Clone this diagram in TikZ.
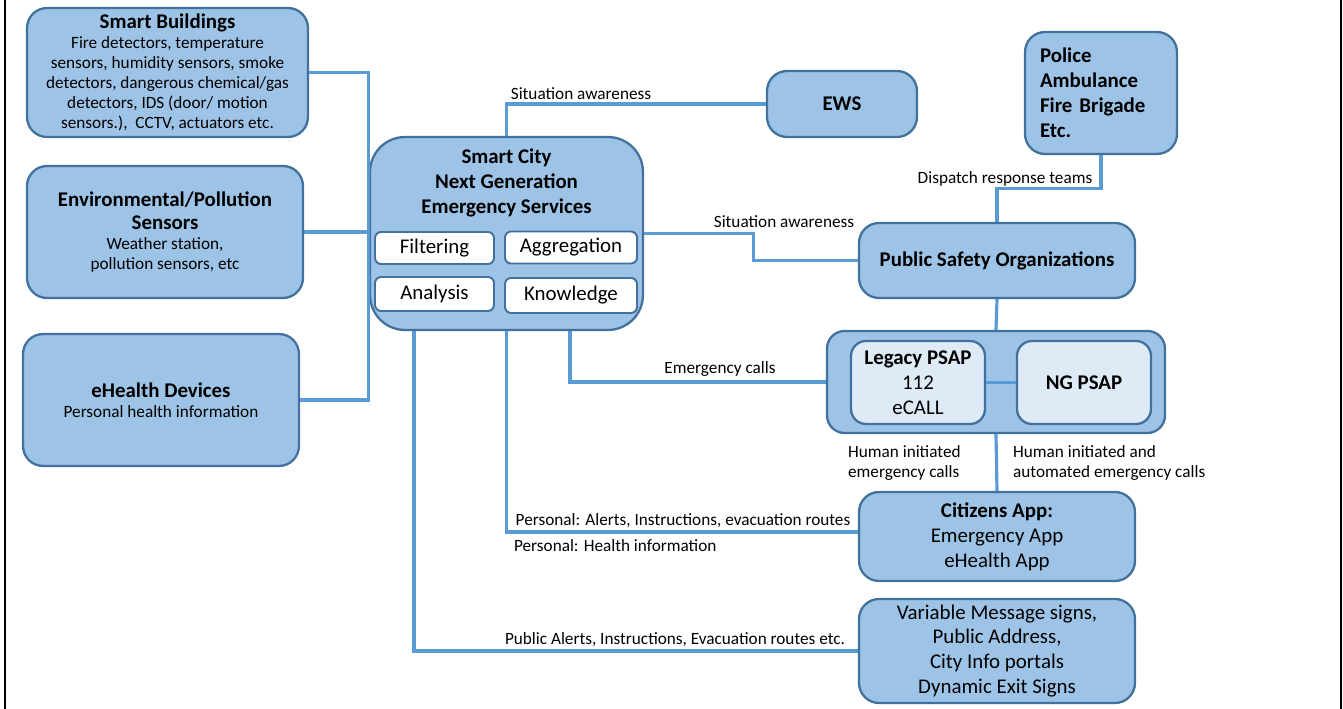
\documentclass[tikz,border=0pt]{standalone}
\usepackage{fontspec}
\setmainfont{Carlito}
\usetikzlibrary{calc,positioning}
\definecolor{boxfill}{RGB}{157,195,230}
\definecolor{boxedge}{RGB}{65,113,156}
\definecolor{wire}{RGB}{91,155,213}
\definecolor{psapfill}{RGB}{222,235,247}
\newcommand{\smalltxt}{\fontsize{9.8}{11.4}\selectfont}
\newcommand{\bigtxt}{\fontsize{11.9}{14.2}\selectfont}
\tikzset{
  box/.style={draw=boxedge, fill=boxfill, line width=1.3pt, rounded corners=0.4cm, align=center, inner sep=0pt},
  tag/.style={draw=boxedge, fill=white, line width=1.1pt, rounded corners=0.12cm, font=\bigtxt, inner sep=0pt},
  link/.style={draw=wire, line width=1.8pt},
  lbl/.style={font=\smalltxt, inner sep=1pt, align=left}
}

\begin{document}
\begin{tikzpicture}[x=0.02cm,y=-0.02cm]
\useasboundingbox (0,0) rectangle (1343,709);
\draw[line width=1.5pt] (5,0) -- (5,709);
\draw[line width=1.5pt] (1341,0) -- (1341,709);

\node[box, font=\smalltxt, minimum width=5.62cm, minimum height=2.58cm] (sb) at (167.5,72.5)
  {{\bigtxt\bfseries Smart Buildings}\\Fire detectors, temperature\\sensors, humidity sensors, smoke\\detectors, dangerous chemical/gas\\detectors, IDS (door/ motion\\sensors.),\ \ CCTV, actuators etc.};
\node[box, font=\smalltxt, minimum width=5.52cm, minimum height=2.64cm] (env) at (165,232)
  {{\bigtxt\bfseries Environmental/Pollution}\\[2pt]{\bigtxt\bfseries Sensors}\\Weather station,\\pollution sensors, etc};
\node[box, font=\smalltxt, minimum width=5.52cm, minimum height=2.64cm] (eh) at (161,400)
  {{\bigtxt\bfseries eHealth Devices}\\Personal health information};

\node[box, rounded corners=0.7cm, minimum width=5.46cm, minimum height=3.86cm] (city) at (506.5,233.5) {};
\node[font=\bigtxt\bfseries, align=center] (citytitle) at (506.5,183) {Smart City\\Next Generation\\Emergency Services};
\node[tag, minimum width=2.38cm, minimum height=0.64cm] (filt) at (434.5,248) {Filtering};
\node[tag, minimum width=2.64cm, minimum height=0.64cm] (aggr) at (571,247.5) {Aggregation};
\node[tag, minimum width=2.38cm, minimum height=0.68cm] (anal) at (434.5,294) {Analysis};
\node[tag, minimum width=2.64cm, minimum height=0.70cm] (know) at (571,295.5) {Knowledge};

\node[box, font=\bigtxt\bfseries, minimum width=3cm, minimum height=1.32cm] (ews) at (842,104) {EWS};
\node[box, font=\bigtxt\bfseries, align=left, inner xsep=0.3cm, text width=2.44cm, minimum height=2.44cm] (pol) at (1101,93)
  {Police\\Ambulance\\Fire Brigade\\Etc.};
\node[box, font=\bigtxt\bfseries, minimum width=5.52cm, minimum height=1.5cm] (pso) at (997,260.5) {Public Safety Organizations};

\node[box, rounded corners=0.35cm, minimum width=6.76cm, minimum height=2.04cm] (psap) at (996,382) {};
\node[box, fill=psapfill, rounded corners=0.3cm, font=\bigtxt, minimum width=2.68cm, minimum height=1.66cm] (leg) at (918,382.5)
  {\textbf{Legacy PSAP}\\112\\eCALL};
\node[box, fill=psapfill, rounded corners=0.3cm, font=\bigtxt\bfseries, minimum width=2.68cm, minimum height=1.66cm] (ng) at (1084,382.5) {NG PSAP};

\node[box, font=\bigtxt, minimum width=5.52cm, minimum height=1.78cm] (app) at (997,536.5)
  {\textbf{Citizens App:}\\Emergency App\\eHealth App};
\node[box, font=\bigtxt, minimum width=5.52cm, minimum height=2.08cm] (vms) at (997,651)
  {Variable Message signs,\\Public Address,\\City Info portals\\Dynamic Exit Signs};

\draw[link] (sb.east) -| (city.west);
\draw[link] (env.east) -- (env.east -| city.west);
\draw[link] (eh.east) -| (city.west);
\draw[link] (city.north) |- (ews.west);
\draw[link] (city.east) -- ($(city.east)+(109,0)$) |- (pso.west);
\draw[link] (pso.north) -- ($(pso.north)+(0,-33)$) -| (pol.south);
\draw[link] (pso.south) -- (psap.north);
\draw[link] ($(city.south)+(63.5,0)$) |- (psap.west);
\draw[link] (leg.east) -- (ng.west);
\draw[link] (psap.south) -- (app.north);
\draw[link] (city.south) |- ($(app.west)+(0,-4.5)$);
\draw[link] ($(city.south)+(-92.5,0)$) |- (vms.west);

\node[lbl, anchor=south] (sa1) at (581,102) {Situation awareness};
\node[lbl, anchor=south] (sa2) at (784,230) {Situation awareness};
\node[lbl, anchor=south] (drt) at (1005,188) {Dispatch response teams};
\node[lbl, anchor=south] (ec) at (720,379) {Emergency calls};
\node[lbl, anchor=west] (hi1) at (846,463) {Human initiated\\emergency calls};
\node[lbl, anchor=west] (hi2) at (1011,463) {Human initiated and\\automated emergency calls};
\node[lbl, anchor=south] (pa) at (683,530) {Personal: Alerts, Instructions, evacuation routes};
\node[lbl, anchor=west] (ph) at (512,546) {Personal: Health information};
\node[lbl, anchor=south] (pub) at (675,649) {Public Alerts, Instructions, Evacuation routes etc.};
\end{tikzpicture}
\end{document}
